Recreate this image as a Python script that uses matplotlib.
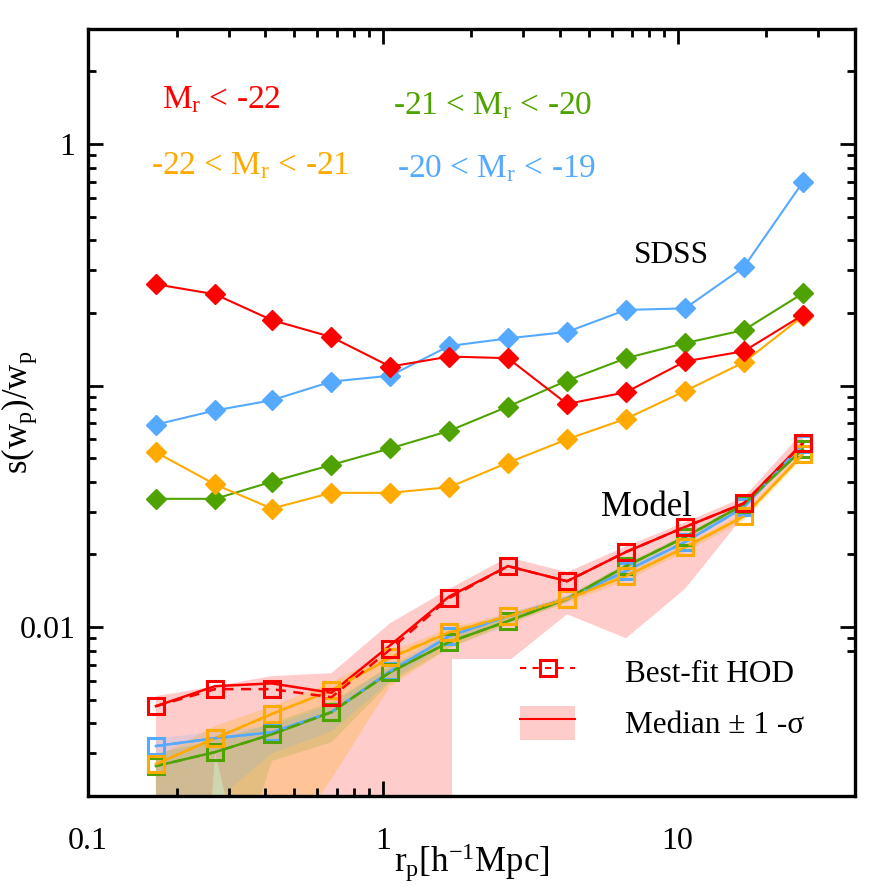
import matplotlib
matplotlib.use("Agg")
import matplotlib.pyplot as plt
import matplotlib.ticker as mticker
from matplotlib.lines import Line2D
from matplotlib.patches import Patch, Rectangle

plt.rcParams['font.family'] = ['Liberation Serif', 'DejaVu Serif']
plt.rcParams['mathtext.fontset'] = 'custom'
plt.rcParams['mathtext.rm'] = 'Liberation Serif'
plt.rcParams['mathtext.it'] = 'Liberation Serif:italic'

# projected separation bins
rp = [0.17, 0.27, 0.42, 0.67, 1.06, 1.68, 2.66, 4.22, 6.69, 10.6, 16.8, 26.6]

# SDSS errors
sdss_22 = [0.263, 0.239, 0.187, 0.159, 0.120, 0.132, 0.130, 0.084, 0.094, 0.126, 0.139, 0.196]
sdss_21 = [0.053, 0.039, 0.031, 0.036, 0.036, 0.038, 0.048, 0.060, 0.073, 0.095, 0.125, 0.194]
sdss_20 = [0.034, 0.034, 0.040, 0.047, 0.055, 0.065, 0.082, 0.105, 0.130, 0.150, 0.170, 0.241]
sdss_19 = [0.069, 0.079, 0.087, 0.104, 0.110, 0.146, 0.157, 0.167, 0.206, 0.209, 0.310, 0.696]

# model best-fit HOD
best_22 = [0.00471, 0.00554, 0.00554, 0.00513, 0.00809, 0.0132, 0.0179, 0.0155, 0.0205, 0.0260, 0.0326, 0.0578]
best_21 = [0.00271, 0.00347, 0.00437, 0.00548, 0.00751, 0.00953, 0.0111, 0.0131, 0.0163, 0.0214, 0.0288, 0.0520]
best_20 = [0.00266, 0.00304, 0.00360, 0.00445, 0.00651, 0.00867, 0.0106, 0.0131, 0.0179, 0.0236, 0.0323, 0.0546]
best_19 = [0.00322, 0.00347, 0.00367, 0.00445, 0.00657, 0.00918, 0.0111, 0.0131, 0.0171, 0.0225, 0.0314, 0.0573]

# model median
med_22 = [0.00471, 0.00570, 0.00585, 0.00535, 0.00842, 0.0134, 0.0179, 0.0155, 0.0205, 0.0260, 0.0326, 0.0578]
med_21 = [0.00271, 0.00347, 0.00437, 0.00548, 0.00745, 0.00950, 0.0111, 0.0131, 0.0163, 0.0214, 0.0288, 0.0520]
med_20 = [0.00266, 0.00304, 0.00360, 0.00445, 0.00651, 0.00867, 0.0106, 0.0131, 0.0179, 0.0236, 0.0323, 0.0546]
med_19 = [0.00322, 0.00347, 0.00367, 0.00445, 0.00657, 0.00918, 0.0111, 0.0131, 0.0171, 0.0225, 0.0314, 0.0573]

# 1-sigma ranges
hi_22 = [0.00518, 0.00570, 0.00627, 0.00645, 0.0104, 0.0144, 0.0195, 0.0169, 0.0216, 0.0272, 0.0345, 0.0642]
lo_22 = [1e-6, 0.00303, 3e-4, 3e-4, 3e-4, 0.0015, 0.0072, 0.0113, 0.0090, 0.0144, 0.0290, 0.0515]
hi_21 = [0.00290, 0.00390, 0.00470, 0.00590, 0.0079, 0.0099, 0.0114, 0.0134, 0.0168, 0.0220, 0.0297, 0.0535]
lo_21 = [1e-6, 5e-4, 0.00103, 0.00236, 0.0057, 0.0082, 0.0104, 0.0126, 0.0156, 0.0205, 0.0276, 0.0500]
hi_20 = [0.0030, 0.0034, 0.0040, 0.0049, 0.0069, 0.0090, 0.0110, 0.0135, 0.0184, 0.0242, 0.0330, 0.0556]
lo_20 = [1e-6, 5e-4, 0.00279, 0.00334, 0.0059, 0.0082, 0.0102, 0.0127, 0.0173, 0.0229, 0.0314, 0.0535]
hi_19 = [0.00345, 0.00370, 0.00390, 0.0048, 0.0069, 0.0095, 0.0114, 0.0135, 0.0176, 0.0231, 0.0322, 0.0585]
lo_19 = [1e-6, 0.0019, 0.0030, 0.0037, 0.0060, 0.0087, 0.0107, 0.0127, 0.0166, 0.0219, 0.0306, 0.0560]

rojo = '#FF0000'
naranja = '#FFAA00'
verde = '#4FA300'
azul = '#55AAFF'

fig = plt.figure(figsize=(8.86, 8.86), dpi=100)
ax = fig.add_axes([0.0993, 0.1016, 0.8657, 0.8657])
ax.set_xscale('log')
ax.set_yscale('log')

# bands
ax.fill_between(rp, lo_22, hi_22, color=rojo, alpha=0.2, lw=0, zorder=1)
ax.fill_between(rp, lo_21, hi_21, color=naranja, alpha=0.25, lw=0, zorder=1)
ax.fill_between(rp, lo_20, hi_20, color=verde, alpha=0.15, lw=0, zorder=1)
ax.fill_between(rp, lo_19, hi_19, color=azul, alpha=0.15, lw=0, zorder=1)

# white box behind the legend
ax.add_patch(Rectangle((0.4746, 0.0), 0.53, 0.1786, transform=ax.transAxes,
                       facecolor='white', edgecolor='none', zorder=2))

# model lines
for med, best, c in [(med_19, best_19, azul), (med_20, best_20, verde),
                     (med_21, best_21, naranja), (med_22, best_22, rojo)]:
    ax.plot(rp, med, '-', color=c, lw=1.8, zorder=3)
    ax.plot(rp, best, '--', color=c, lw=1.8, dashes=(4, 3), marker='s', ms=11,
            mfc='none', mec=c, mew=2.2, zorder=4)

# SDSS lines
for vals, c in [(sdss_19, azul), (sdss_20, verde), (sdss_21, naranja), (sdss_22, rojo)]:
    ax.plot(rp, vals, '-', color=c, lw=1.5, marker='D', ms=10.5, mfc=c, mec=c, zorder=5)

ax.set_xlim(0.1, 40)
ax.set_ylim(0.002, 3.0)

for s in ax.spines.values():
    s.set_linewidth(2.4)
ax.tick_params(which='both', direction='in', top=True, right=True, width=2.0, labelsize=23)
ax.tick_params(which='major', length=11)
ax.tick_params(which='minor', length=6)
ax.tick_params(axis='x', which='major', pad=22)
ax.tick_params(axis='y', which='major', pad=9)

ax.xaxis.set_major_locator(mticker.FixedLocator([0.1, 1, 10]))
ax.xaxis.set_major_formatter(mticker.FixedFormatter(['0.1', '1', '10']))
ax.yaxis.set_major_locator(mticker.FixedLocator([0.01, 0.1, 1]))
ax.yaxis.set_major_formatter(mticker.FixedFormatter(['0.01', '', '1']))
ax.xaxis.set_minor_formatter(mticker.NullFormatter())
ax.yaxis.set_minor_formatter(mticker.NullFormatter())

ax.set_xlabel(r'r$_\mathrm{p}$[h$^\mathrm{-1}$Mpc]', fontsize=25, labelpad=-10)
ax.set_ylabel(r'$\mathrm{s(w_p)/w_p}$', fontsize=25)
ax.yaxis.set_label_coords(-0.064, 0.5)

fs = 24
ax.text(0.0965, 0.897, r'M$_\mathrm{r}$ < -22', color=rojo, fontsize=fs, transform=ax.transAxes, va='baseline')
ax.text(0.0821, 0.811, r'-22 < M$_\mathrm{r}$ < -21', color=naranja, fontsize=fs, transform=ax.transAxes, va='baseline')
ax.text(0.3977, 0.889, r'-21 < M$_\mathrm{r}$ < -20', color=verde, fontsize=fs, transform=ax.transAxes, va='baseline')
ax.text(0.403, 0.807, r'-20 < M$_\mathrm{r}$ < -19', color=azul, fontsize=fs, transform=ax.transAxes, va='baseline')
ax.text(0.712, 0.695, 'SDSS', color='black', fontsize=22.5, transform=ax.transAxes, va='baseline')
ax.text(0.669, 0.365, 'Model', color='black', fontsize=25, transform=ax.transAxes, va='baseline')

# legend
h_best = Line2D([], [], color=rojo, ls='--', dashes=(3, 3), lw=1.5, marker='s', ms=11,
                mfc='none', mec=rojo, mew=2.2)
h_band = Patch(facecolor=rojo, alpha=0.2, edgecolor='none')
h_med = Line2D([], [], color=rojo, lw=1.5)
leg = ax.legend([h_best, (h_band, h_med)], ['Best-fit HOD', 'Median ± 1 -σ'],
                loc='lower left', bbox_to_anchor=(0.527, 0.036), frameon=False,
                fontsize=22.5, handlelength=1.75, handleheight=1.3,
                handletextpad=1.6, labelspacing=0.55)
leg.set_zorder(6)

fig.savefig('out.png', dpi=100)
